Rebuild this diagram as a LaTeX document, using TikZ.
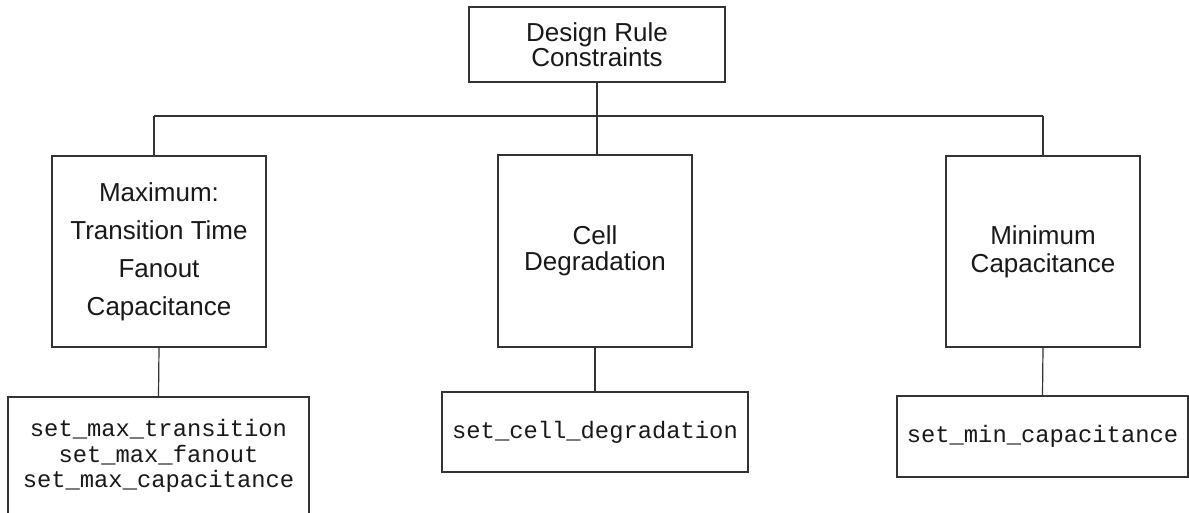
\documentclass[tikz,border=0pt]{standalone}
\usepackage{fontspec}
\setmainfont{Liberation Sans}
\newfontfamily\codefont{Liberation Mono}
\begin{document}
\begin{tikzpicture}[x=1pt,y=-1pt,
  box/.style={draw=black!80,line width=1.2pt,rectangle,inner sep=0pt,align=center,text=black!90},
  sanstxt/.style={font=\fontsize{26}{#1}\selectfont},
  codetxt/.style={font=\codefont\fontsize{23.8}{25.5}\selectfont},
  conn/.style={draw=black!80,line width=1.2pt}]
\useasboundingbox (0,0) rectangle (1189,512);
\node[box,sanstxt=25,minimum width=256pt,minimum height=75pt] (top) at (597,44.5) {Design Rule\\Constraints};
\node[box,sanstxt=38,minimum width=214pt,minimum height=191pt] (left) at (159,251.5) {Maximum:\\Transition Time\\Fanout\\Capacitance};
\node[box,sanstxt=26,minimum width=194pt,minimum height=192pt] (mid) at (595,251) {Cell\\Degradation};
\node[box,sanstxt=28,minimum width=194pt,minimum height=191pt] (right) at (1043,251.5) {Minimum\\Capacitance};
\node[box,codetxt,minimum width=301pt,minimum height=118pt] (cleft) at (158.5,456) {set\_max\_transition\\set\_max\_fanout\\set\_max\_capacitance};
\node[box,codetxt,minimum width=306pt,minimum height=80pt] (cmid) at (595,432) {set\_cell\_degradation};
\node[box,codetxt,minimum width=291pt,minimum height=81pt] (cright) at (1042.5,436.5) {set\_min\_capacitance};
\coordinate (busL) at (154,116);
\coordinate (busR) at (1043,116);
\draw[conn] (busL) -- (busR);
\draw[conn] (top.south) -- (top.south |- mid.north);
\draw[conn] (busL) -- (busL |- left.north);
\draw[conn] (busR) -- (right.north);
\draw[conn] (left.south) -- (cleft.north);
\draw[conn] (mid.south) -- (cmid.north);
\draw[conn] (right.south) -- (cright.north);
\end{tikzpicture}
\end{document}
